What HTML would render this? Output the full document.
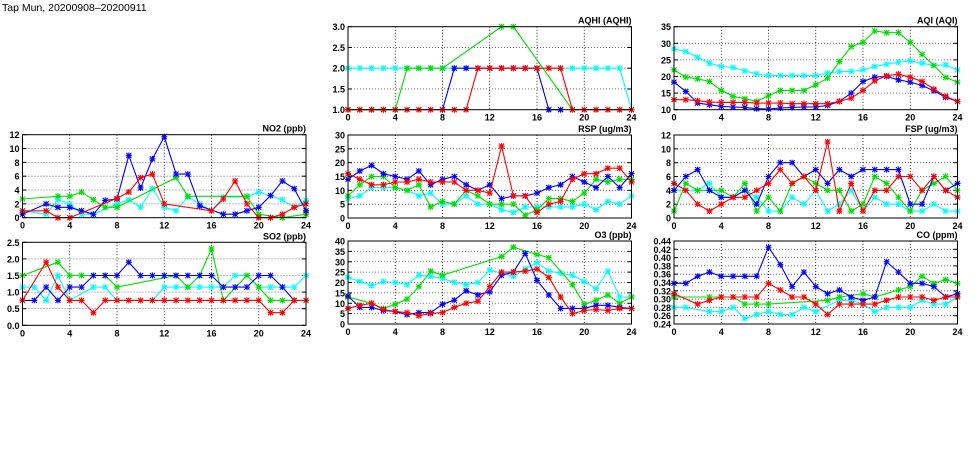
<!DOCTYPE html>
<html><head><meta charset="utf-8"><style>
body{margin:0;background:#fff;width:975px;height:447px;overflow:hidden}
svg text{font-family:"Liberation Sans",sans-serif}
</style></head><body>
<svg id="s" width="975" height="447" xmlns="http://www.w3.org/2000/svg">
<text x="2" y="11" font-size="10.5" font-family="Liberation Sans, sans-serif">Tap Mun, 20200908–20200911</text>
</svg>
<script>
var N=null;
var panels=[
{t:"AQHI (AQHI)",x:348,y:26.7,min:1,max:3,ticks:[1,1.5,2,2.5,3],fmt:1,
 s:{c:[2,2,2,2,2,2,2,2,2,2,2,2,2,2,2,2,2,2,2,2,2,2,2,2,1],
 g:[1,1,1,1,1,2,2,2,2,N,N,N,N,3,3,N,N,N,N,1,N,N,N,N,N],
 b:[N,N,N,N,N,N,N,N,1,2,2,2,2,2,2,2,2,1,1,N,N,N,N,N,N],
 r:[1,1,1,1,1,1,1,1,1,1,1,2,2,2,2,2,2,2,2,1,1,1,1,1,1]}},
{t:"AQI (AQI)",x:674,y:26.7,min:10,max:35,ticks:[10,15,20,25,30,35],fmt:0,
 s:{c:[28.3,27.5,25.8,24,23,22.7,21.7,20.8,20.3,20.3,20.3,20.3,20.3,21,21.5,21.5,22,23,23.7,24.3,24.7,24,23.3,23.5,22],
 g:[22,19.8,19.3,18.5,15.8,14,13.3,12.5,14.2,15.8,15.8,15.8,17.5,19.5,24.5,29,30.3,33.7,33.2,33.2,30.3,26.7,23.3,19.7,18.3],
 b:[18.3,15.5,12,11.5,11,10.8,10.7,10.3,10.2,10.5,10.7,10.8,10.8,11.3,12.5,15,18.5,19.8,20,19,18.3,17.3,15.7,13.7,12.5],
 r:[13,13,12.7,12.3,12.2,12.2,12.2,12,12,12,11.8,11.8,11.8,11.8,12.5,13.5,15.8,18.7,20.2,20.7,19.8,18.5,16.2,14,12.5]}},
{t:"NO2 (ppb)",x:22.5,y:134.7,min:0,max:12,ticks:[0,2,4,6,8,10,12],fmt:0,
 s:{c:[1,N,0.5,2.6,2,0.5,0.5,N,2,2.6,1.5,4.2,1.5,1,3,2,1,3,N,3,3.7,3.2,2.6,1.5,2.5],
 g:[2.7,N,N,3.1,3.1,3.7,2.6,1.5,1.5,N,N,N,N,5.8,3.1,N,N,N,N,3.1,0.5,N,0,N,0.5],
 b:[0.5,N,2,1.5,1.5,1,0.5,2.5,2.7,9,4.3,8.5,11.7,6.3,6.3,1.7,N,0.5,0.5,1,1.5,3.2,5.3,4.2,1],
 r:[1,N,1,0,0,N,N,N,2.8,3.7,5.8,6.3,2,N,N,N,1,2.7,5.3,2,0,0,0.5,1.5,2]}},
{t:"RSP (ug/m3)",x:348,y:135,min:0,max:30,ticks:[0,5,10,15,20,25,30],fmt:0,
 s:{c:[7,8,11,11,11,10,8,9,5,5,8,5,5,3,2,4,4,4,4,4,5,3,6,5,8],
 g:[8,12,15,15,11,10,12,4,6,5,10,8,5,5,5,1,3,7,7,6,9,14,13,14,14],
 b:[14,17,19,16,15,14,17,12,14,15,12,10,12,7,8,8,9,11,12,15,13,11,15,11,16],
 r:[16,14,12,12,13,13,14,13,13,13,10,10,9,26,8,8,2,5,6,14,16,16,18,18,13]}},
{t:"FSP (ug/m3)",x:674,y:135,min:0,max:12,ticks:[0,2,4,6,8,10,12],fmt:0,
 s:{c:[4,4,4,5,3,3,4,3,1,1,3,2,4,1,2,4,1,3,2,2,1,1,2,1,1],
 g:[1,5,4,4,4,3,5,1,3,1,5,6,5,4,4,1,2,6,5,3,1,4,5,6,4],
 b:[4,6,7,4,3,3,4,2,6,8,8,6,7,5,7,6,7,7,7,7,2,2,6,4,5],
 r:[5,4,2,1,2,3,3,4,5,7,5,6,4,11,1,5,1,4,4,6,6,4,6,4,3]}},
{t:"SO2 (ppb)",x:22.5,y:242.3,min:0,max:2.5,ticks:[0,0.5,1,1.5,2,2.5],fmt:1,
 s:{c:[1.15,1.15,.75,1.5,.75,N,1.15,1.15,.75,N,N,.75,1.15,1.15,1.15,1.15,1.15,1.15,1.5,1.5,1.15,1.15,1.15,1.15,1.5],
 g:[1.5,N,N,1.9,1.5,1.5,1.5,1.5,1.15,N,N,N,N,1.5,1.15,1.5,2.3,.75,N,1.5,1.15,.75,.75,.75,N],
 b:[.75,.75,1.15,.75,1.15,1.15,1.5,1.5,1.5,1.9,1.5,1.5,1.5,1.5,1.5,1.5,1.5,1.15,1.15,1.15,1.5,1.5,1.15,.75,N],
 r:[.75,N,1.9,1.15,.75,.75,.38,.75,.75,.75,.75,.75,.75,.75,.75,.75,.75,.75,.75,.75,.75,.38,.38,.75,.75]}},
{t:"O3 (ppb)",x:348,y:241,min:0,max:40,ticks:[0,5,10,15,20,25,30,35,40],fmt:0,
 s:{c:[22.5,20.5,18.5,20.5,20,19,23.5,23,22,20,19,20,26,24.5,23,26.5,29.5,25.5,24.5,23.5,20.5,17,25.5,13,13],
 g:[13,N,10,7.5,9.5,12,18,25.5,23.5,N,N,N,N,32.5,37,N,33.5,32,N,19,9.5,11.5,14,10,13],
 b:[13.5,8,8,6.5,6,4.5,5.5,5.5,9.5,11.5,16,14,15.5,23.5,25,34,21,14,7.5,7.5,7.5,9,9,8,7.5],
 r:[7.5,9,10,7,6,5.5,4,5,5.5,8,10,11,18,25,25,25.5,26.5,22.5,13,5,6.5,7,6.5,7.5,7.5]}},
{t:"CO (ppm)",x:674,y:241,min:0.24,max:0.44,ticks:[.24,.26,.28,.30,.32,.34,.36,.38,.40,.42,.44],fmt:2,
 s:{c:[.28,.28,N,.27,.27,.28,.253,.263,.27,.263,.263,.28,.27,N,.297,.297,.288,.27,.28,.28,.28,.297,.288,.288,.305],
 g:[.305,N,N,.305,.305,.305,.288,.288,.288,N,N,N,N,.297,.305,N,.313,.305,N,.322,.33,.355,.338,.347,.338],
 b:[.338,.338,.355,.365,.355,.355,.355,.355,.425,.383,.33,.365,.33,.313,.322,.305,.297,.305,.39,.365,.338,.338,.33,.305,.313],
 r:[.313,N,.288,.297,.305,.305,.305,.305,.338,.322,.305,.305,.288,.263,.288,.288,.288,.288,.297,.305,.305,.305,.297,.305,.305]}}
];
var col={c:"#00ffff",g:"#00e000",b:"#0000ff",r:"#ff0000"};
var W=283.5,H=83,o="";
panels.forEach(function(p){
 var X=function(h){return p.x+h*W/24},Y=function(v){return p.y+H-(v-p.min)/(p.max-p.min)*H};
 o+='<rect x="'+p.x+'" y="'+p.y+'" width="'+W+'" height="'+H+'" fill="#fff"/>';
 p.ticks.forEach(function(v){var y=Y(v);
  if(v!=p.min&&v!=p.max)o+='<line x1="'+p.x+'" x2="'+(p.x+W)+'" y1="'+y+'" y2="'+y+'" stroke="#555" stroke-width="0.8" stroke-dasharray="1,2"/>';
  o+='<line x1="'+p.x+'" x2="'+(p.x+4)+'" y1="'+y+'" y2="'+y+'" stroke="#000"/><line x1="'+(p.x+W-4)+'" x2="'+(p.x+W)+'" y1="'+y+'" y2="'+y+'" stroke="#000"/>';
  o+='<text x="'+(p.x-3)+'" y="'+(y+3.5)+'" font-size="9" font-weight="bold" text-anchor="end">'+v.toFixed(p.fmt)+'</text>';});
 for(var h=0;h<=24;h+=4){var x=X(h);
  if(h>0&&h<24)o+='<line x1="'+x+'" x2="'+x+'" y1="'+p.y+'" y2="'+(p.y+H)+'" stroke="#000" stroke-width="0.8" stroke-dasharray="1,2"/>';
  o+='<text x="'+x+'" y="'+(p.y+H+11)+'" font-size="9" font-weight="bold" text-anchor="middle">'+h+'</text>';}
 o+='<text x="'+(p.x+W)+'" y="'+(p.y-3)+'" font-size="9" font-weight="bold" text-anchor="end" font-family="Liberation Mono, monospace">'+p.t+'</text>';
 ["c","g","b","r"].forEach(function(k){var d=p.s[k],pts=[],m="";
  d.forEach(function(v,h){if(v!==null){var x=X(h),y=Y(v);pts.push(x.toFixed(1)+","+y.toFixed(1));
   m+='M'+(x-2.5)+' '+(y-2.5)+'L'+(x+2.5)+' '+(y+2.5)+'M'+(x-2.5)+' '+(y+2.5)+'L'+(x+2.5)+' '+(y-2.5)+'M'+(x-3)+' '+y+'L'+(x+3)+' '+y+'M'+x+' '+(y-3)+'L'+x+' '+(y+3);}});
  o+='<polyline points="'+pts.join(" ")+'" fill="none" stroke="'+col[k]+'" stroke-width="1.1"/>';
  o+='<path d="'+m+'" stroke="'+col[k]+'" stroke-width="1.1" fill="none"/>';});
 o+='<rect x="'+p.x+'" y="'+p.y+'" width="'+W+'" height="'+H+'" fill="none" stroke="#000" stroke-width="1"/>';
});
document.getElementById("s").insertAdjacentHTML("beforeend",o);
</script>
</body></html>
